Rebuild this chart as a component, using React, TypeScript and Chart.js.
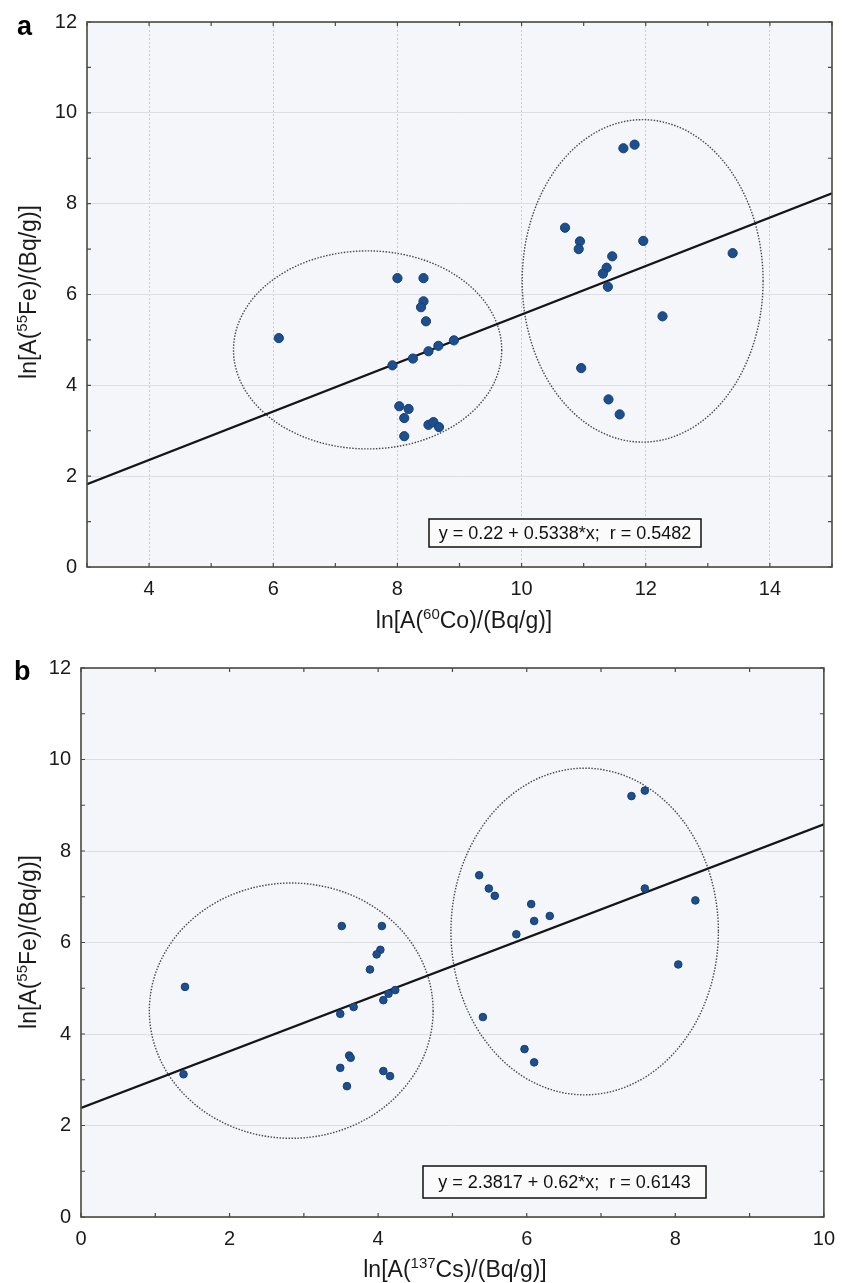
import React, { useEffect, useRef } from "react";
import { Chart, registerables } from "chart.js";
Chart.register(...registerables);

const FONT = "'Liberation Sans', Arial, Helvetica, sans-serif";

// ---------- Panel a data: ln A(60Co) vs ln A(55Fe) ----------
const coX = [8.0, 8.42, 8.42, 8.38, 8.46, 6.09, 8.91, 8.66, 8.5, 8.25, 7.92, 8.03, 8.18, 8.11, 8.5, 8.58, 8.67, 8.11,
  11.64, 11.82, 10.7, 10.94, 10.92, 11.96, 11.46, 11.37, 11.31, 11.39, 13.4, 12.27, 10.96, 11.4, 11.58];
const feA = [6.36, 6.36, 5.85, 5.72, 5.41, 5.04, 4.99, 4.87, 4.75, 4.59, 4.44, 3.54, 3.48, 3.28, 3.13, 3.19, 3.08, 2.88,
  9.22, 9.3, 7.47, 7.17, 7.0, 7.18, 6.84, 6.59, 6.46, 6.17, 6.91, 5.52, 4.38, 3.69, 3.36];
const fitA = [0.22, 0.5338];
const ellipsesA = [
  [7.52, 4.78, 2.16, 2.18],
  [11.95, 6.3, 1.94, 3.55],
];
const xRangeA = [3, 15];
const xTicksA = [4, 6, 8, 10, 12, 14];
const legendTextA = "y = 0.22 + 0.5338*x;  r = 0.5482";

// ---------- Panel b data: ln A(137Cs) vs ln A(55Fe) ----------
const csX = [3.51, 4.05, 4.03, 3.98, 3.89, 1.4, 4.23, 4.14, 4.07, 3.67, 3.49, 3.61, 3.63, 3.49, 4.07, 4.16, 3.58, 1.38,
  7.41, 7.59, 5.36, 5.49, 5.57, 6.06, 6.1, 6.31, 5.86, 7.59, 8.27, 8.04, 5.41, 5.97, 6.1];
const feB = [6.36, 6.36, 5.84, 5.74, 5.41, 5.03, 4.96, 4.88, 4.74, 4.59, 4.44, 3.53, 3.48, 3.26, 3.19, 3.08, 2.86, 3.12,
  9.2, 9.32, 7.47, 7.18, 7.02, 6.84, 6.47, 6.58, 6.18, 7.18, 6.92, 5.52, 4.37, 3.67, 3.38];
const fitB = [2.3817, 0.62];
const ellipsesB = [
  [2.83, 4.51, 1.91, 2.79],
  [6.78, 6.24, 1.8, 3.57],
];
const xRangeB = [0, 10];
const xTicksB = [0, 2, 4, 6, 8, 10];
const legendTextB = "y = 2.3817 + 0.62*x;  r = 0.6143";

// ---------- shared ----------
const yRange = [0, 12];
const yTicks = [0, 2, 4, 6, 8, 10, 12];

type Seg = { t: string; sup?: boolean };
const yTitle: Seg[] = [{ t: "ln[A(" }, { t: "55", sup: true }, { t: "Fe)/(Bq/g)]" }];
const xTitleA: Seg[] = [{ t: "ln[A(" }, { t: "60", sup: true }, { t: "Co)/(Bq/g)]" }];
const xTitleB: Seg[] = [{ t: "ln[A(" }, { t: "137", sup: true }, { t: "Cs)/(Bq/g)]" }];

const PLOT_BG = "#f4f6fa";
const FRAME = "#4a4a40";
const POINT = "#1d4f8e";
const TITLE_SIZE = 23;

interface PanelCfg {
  xs: number[];
  ys: number[];
  xRange: number[];
  xTicks: number[];
  fit: number[];
  ellipses: number[][];
  xTitle: Seg[];
  letter: string;
  legendText: string;
  width: number;
  height: number;
  padTop: number;
  padRight: number;
  yAxisW: number;
  xAxisH: number;
  pointR: number;
  vGrid: boolean;
  legendBox: number[];
  xTitlePos: number[];
  yTitlePos: number[];
  letterPos: number[];
}

function drawSegs(ctx: CanvasRenderingContext2D, segs: Seg[], cx: number, base: number, size: number) {
  const big = `${size}px ${FONT}`;
  const small = `${Math.round(size * 0.64)}px ${FONT}`;
  let total = 0;
  const ws = segs.map((s) => {
    ctx.font = s.sup ? small : big;
    const w = ctx.measureText(s.t).width;
    total += w;
    return w;
  });
  let x = cx - total / 2;
  ctx.textAlign = "left";
  ctx.textBaseline = "alphabetic";
  segs.forEach((s, i) => {
    ctx.font = s.sup ? small : big;
    ctx.fillText(s.t, x, s.sup ? base - size * 0.4 : base);
    x += ws[i];
  });
}

function makePlugin(cfg: PanelCfg) {
  return {
    id: "panelDecor",
    beforeDraw(chart: any) {
      const { ctx, chartArea: a } = chart;
      ctx.save();
      ctx.fillStyle = PLOT_BG;
      ctx.fillRect(a.left, a.top, a.right - a.left, a.bottom - a.top);
      ctx.restore();
    },
    beforeDatasetsDraw(chart: any) {
      const { ctx, chartArea: a } = chart;
      const xs = chart.scales.x;
      const ys = chart.scales.y;
      ctx.save();
      ctx.beginPath();
      ctx.rect(a.left, a.top, a.right - a.left, a.bottom - a.top);
      ctx.clip();
      ctx.setLineDash([1.5, 1.5]);
      ctx.lineWidth = 1.4;
      ctx.strokeStyle = "#4a4a4a";
      cfg.ellipses.forEach((e) => {
        const cx = xs.getPixelForValue(e[0]);
        const cy = ys.getPixelForValue(e[1]);
        const rx = Math.abs(xs.getPixelForValue(e[0] + e[2]) - cx);
        const ry = Math.abs(ys.getPixelForValue(e[1] + e[3]) - cy);
        ctx.beginPath();
        ctx.ellipse(cx, cy, rx, ry, 0, 0, Math.PI * 2);
        ctx.stroke();
      });
      ctx.restore();
    },
    afterDraw(chart: any) {
      const { ctx, chartArea: a } = chart;
      const xs = chart.scales.x;
      const ys = chart.scales.y;
      ctx.save();
      ctx.strokeStyle = FRAME;
      ctx.lineWidth = 1.6;
      ctx.strokeRect(a.left, a.top, a.right - a.left, a.bottom - a.top);
      ctx.lineWidth = 1.2;
      const tl = 4;
      ctx.beginPath();
      for (let v = Math.ceil(cfg.xRange[0]); v <= cfg.xRange[1]; v++) {
        const px = xs.getPixelForValue(v);
        ctx.moveTo(px, a.bottom);
        ctx.lineTo(px, a.bottom - tl);
        ctx.moveTo(px, a.top);
        ctx.lineTo(px, a.top + tl);
      }
      for (let v = yRange[0]; v <= yRange[1]; v++) {
        const py = ys.getPixelForValue(v);
        ctx.moveTo(a.left, py);
        ctx.lineTo(a.left + tl, py);
        ctx.moveTo(a.right, py);
        ctx.lineTo(a.right - tl, py);
      }
      ctx.stroke();

      const [bl, bt, bw, bh] = cfg.legendBox;
      ctx.fillStyle = "#fbfbfb";
      ctx.fillRect(bl, bt, bw, bh);
      ctx.strokeStyle = "#111";
      ctx.lineWidth = 1.5;
      ctx.strokeRect(bl, bt, bw, bh);
      ctx.fillStyle = "#111";
      ctx.font = `18px ${FONT}`;
      ctx.textAlign = "center";
      ctx.textBaseline = "middle";
      ctx.fillText(cfg.legendText, bl + bw / 2, bt + bh / 2 + 1);

      ctx.fillStyle = "#1a1a1a";
      drawSegs(ctx, cfg.xTitle, cfg.xTitlePos[0], cfg.xTitlePos[1], TITLE_SIZE);
      ctx.save();
      ctx.translate(cfg.yTitlePos[0], cfg.yTitlePos[1]);
      ctx.rotate(-Math.PI / 2);
      drawSegs(ctx, yTitle, 0, 0, TITLE_SIZE);
      ctx.restore();

      ctx.fillStyle = "#000";
      ctx.font = `bold 27px ${FONT}`;
      ctx.textAlign = "left";
      ctx.textBaseline = "alphabetic";
      ctx.fillText(cfg.letter, cfg.letterPos[0], cfg.letterPos[1]);
      ctx.restore();
    },
  };
}

function Panel({ cfg }: { cfg: PanelCfg }) {
  const ref = useRef<HTMLCanvasElement>(null);
  useEffect(() => {
    if (!ref.current) return;
    const pts = cfg.xs.map((x, i) => ({ x, y: cfg.ys[i] }));
    const x0 = cfg.xRange[0];
    const x1 = cfg.xRange[1];
    const line = [
      { x: x0, y: cfg.fit[0] + cfg.fit[1] * x0 },
      { x: x1, y: cfg.fit[0] + cfg.fit[1] * x1 },
    ];
    const chart = new Chart(ref.current, {
      type: "scatter",
      data: {
        datasets: [
          {
            label: "points",
            data: pts,
            backgroundColor: POINT,
            borderColor: "#153f75",
            borderWidth: 1,
            pointRadius: cfg.pointR,
          },
          {
            type: "line",
            label: "fit",
            data: line,
            showLine: true,
            borderColor: "#151515",
            borderWidth: 2.2,
            pointRadius: 0,
            fill: false,
          } as any,
        ],
      },
      options: {
        responsive: false,
        animation: false,
        events: [],
        layout: { padding: { top: cfg.padTop, right: cfg.padRight, left: 0, bottom: 0 } },
        plugins: { legend: { display: false }, tooltip: { enabled: false }, title: { display: false } },
        scales: {
          x: {
            type: "linear",
            min: cfg.xRange[0],
            max: cfg.xRange[1],
            afterBuildTicks: (s: any) => {
              s.ticks = cfg.xTicks.map((v) => ({ value: v }));
            },
            afterFit: (s: any) => {
              s.height = cfg.xAxisH;
            },
            border: { display: false, dash: [2, 2] },
            grid: {
              display: cfg.vGrid,
              drawTicks: false,
              color: "#c9ccd3",
              lineWidth: 1,
            },
            ticks: {
              padding: 10,
              color: "#1a1a1a",
              font: { family: FONT, size: 20 },
              maxRotation: 0,
            },
          },
          y: {
            type: "linear",
            min: yRange[0],
            max: yRange[1],
            afterBuildTicks: (s: any) => {
              s.ticks = yTicks.map((v) => ({ value: v }));
            },
            afterFit: (s: any) => {
              s.width = cfg.yAxisW;
            },
            border: { display: false },
            grid: {
              drawTicks: false,
              color: "#dcdfe4",
              lineWidth: 1,
            },
            ticks: {
              padding: 10,
              color: "#1a1a1a",
              font: { family: FONT, size: 20 },
            },
          },
        } as any,
      },
      plugins: [makePlugin(cfg)],
    });
    return () => chart.destroy();
  }, [cfg]);
  return <canvas ref={ref} width={cfg.width} height={cfg.height} style={{ display: "block" }} />;
}

const cfgA: PanelCfg = {
  xs: coX,
  ys: feA,
  xRange: xRangeA,
  xTicks: xTicksA,
  fit: fitA,
  ellipses: ellipsesA,
  xTitle: xTitleA,
  letter: "a",
  legendText: legendTextA,
  width: 845,
  height: 640,
  padTop: 21,
  padRight: 13,
  yAxisW: 87,
  xAxisH: 73,
  pointR: 4.6,
  vGrid: true,
  legendBox: [429, 519, 272, 28],
  xTitlePos: [464, 628],
  yTitlePos: [36, 292],
  letterPos: [17, 35],
};

const cfgB: PanelCfg = {
  xs: csX,
  ys: feB,
  xRange: xRangeB,
  xTicks: xTicksB,
  fit: fitB,
  ellipses: ellipsesB,
  xTitle: xTitleB,
  letter: "b",
  legendText: legendTextB,
  width: 845,
  height: 643,
  padTop: 28,
  padRight: 16,
  yAxisW: 81,
  xAxisH: 66,
  pointR: 3.8,
  vGrid: false,
  legendBox: [423, 526, 283, 32],
  xTitlePos: [455, 637],
  yTitlePos: [36, 302],
  letterPos: [14, 40],
};

export default function App() {
  return (
    <div style={{ position: "absolute", left: 0, top: 0, width: 845, height: 1283, background: "#fff" }}>
      <Panel cfg={cfgA} />
      <Panel cfg={cfgB} />
    </div>
  );
}
